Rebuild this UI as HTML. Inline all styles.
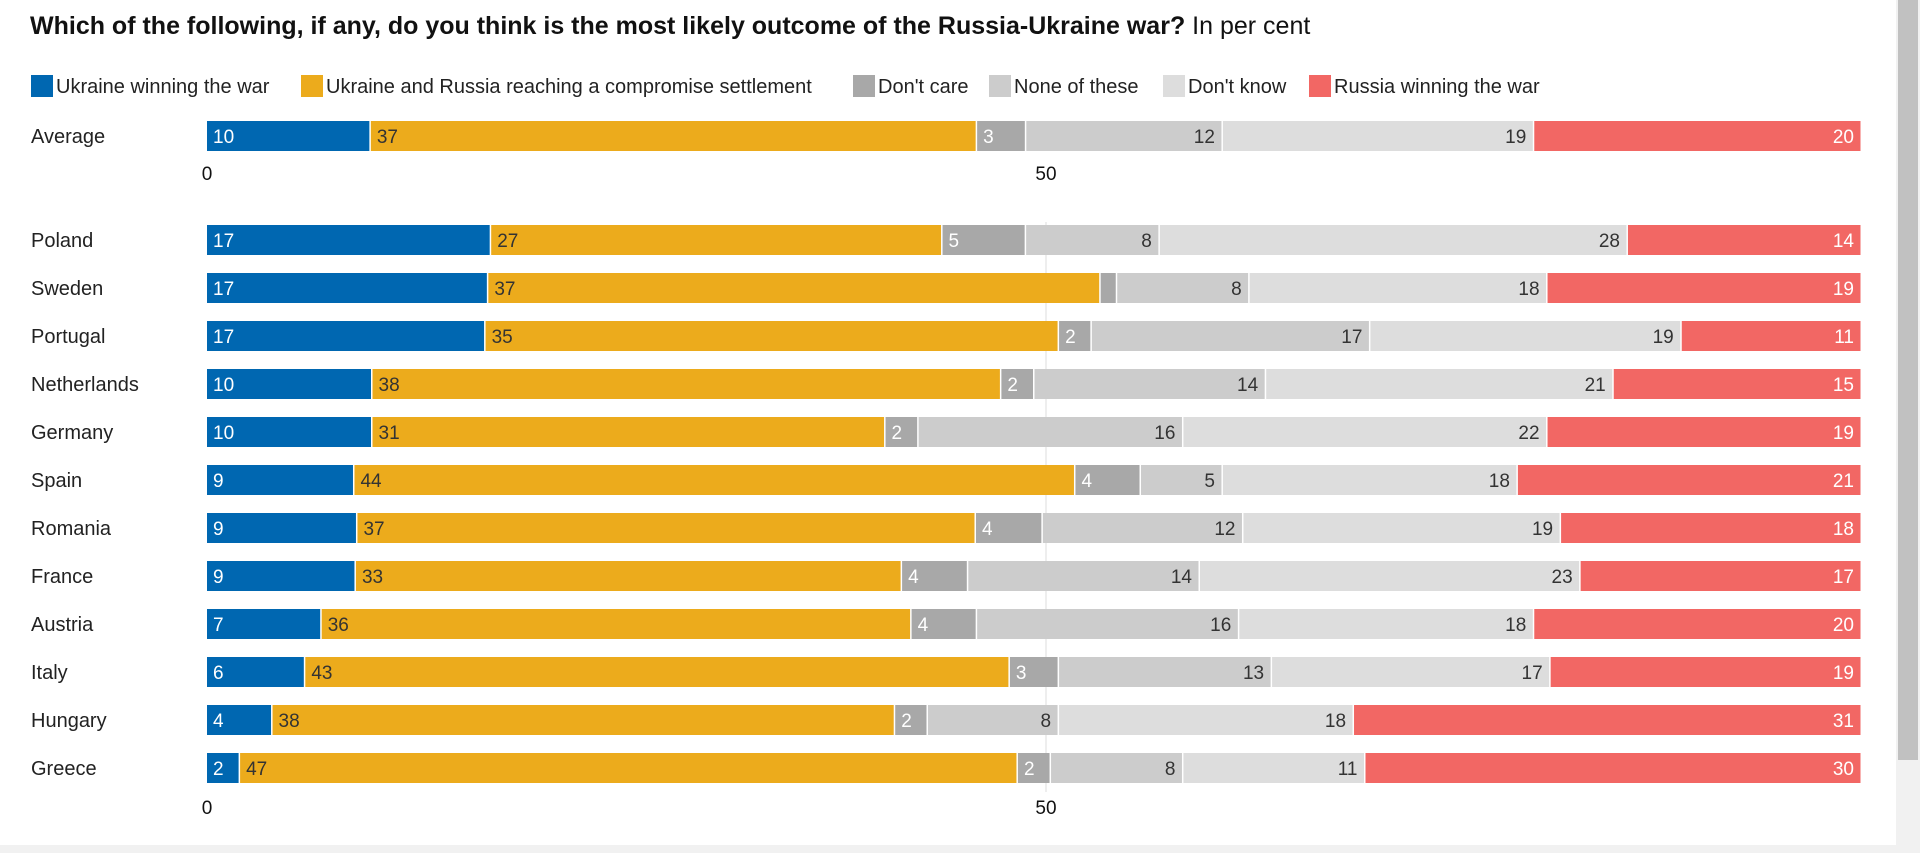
<!DOCTYPE html>
<html><head><meta charset="utf-8"><style>
body{margin:0;background:#fff;width:1920px;height:853px;overflow:hidden;font-family:"Liberation Sans",sans-serif}
svg text{font-family:"Liberation Sans",sans-serif}
</style></head><body>
<svg id="chart" width="1920" height="853">
<text x="30" y="34" font-size="25" font-weight="bold" fill="#111">Which of the following, if any, do you think is the most likely outcome of the Russia-Ukraine war?<tspan font-weight="normal"> In per cent</tspan></text>
<g id="legend"></g>
<g id="grid"></g><g id="bars"></g><g id="axes"></g>
<rect x="1896" y="0" width="24" height="853" fill="#f1f1f1"/>
<rect x="1898" y="0" width="20" height="760" fill="#c1c1c1"/>
<rect x="0" y="845" width="1896" height="8" fill="#f1f1f1"/>
</svg>
<script>
const series=["Ukraine winning the war","Ukraine and Russia reaching a compromise settlement","Don't care","None of these","Don't know","Russia winning the war"];
const colors=["#0067b1","#ecab1c","#a8a8a8","#cccccc","#dddddd","#f26764"];
const countries=["Poland","Sweden","Portugal","Netherlands","Germany","Spain","Romania","France","Austria","Italy","Hungary","Greece"];
const avgValues=[10,37,3,12,19,20];
const ukraineWin=[17,17,17,10,10,9,9,9,7,6,4,2];
const compromise=[27,37,35,38,31,44,37,33,36,43,38,47];
const dontCare=[5,1,2,2,2,4,4,4,4,3,2,2];
const noneOfThese=[8,8,17,14,16,5,12,14,16,13,8,8];
const dontKnow=[28,18,19,21,22,18,19,23,18,17,18,11];
const russiaWin=[14,19,11,15,19,21,18,17,20,19,31,30];
const ticks=[0,50,100];
const NS="http://www.w3.org/2000/svg";
const X0=207,X1=1862,AX100=1885;
const ax=v=>X0+(AX100-X0)*v/100;
function mk(t,a,p){const e=document.createElementNS(NS,t);for(const k in a)e.setAttribute(k,a[k]);p.appendChild(e);return e;}
const legend=document.getElementById('legend');
const lx=[31,301,853,989,1163,1309];
series.forEach((s,i)=>{
  const r=mk('rect',{x:lx[i],y:75,width:22,height:22,fill:colors[i]},legend);
  
  
  const t=mk('text',{x:lx[i]+25,y:93,'font-size':20,fill:'#222'},legend);t.textContent=s;
  
  
});
const grid=document.getElementById('grid'),bars=document.getElementById('bars'),axes=document.getElementById('axes');
const gl=mk('line',{x1:ax(50),x2:ax(50),y1:222,y2:792,stroke:'#ddd','stroke-width':1},grid);


const clip=mk('clipPath',{id:'axclip'},document.getElementById('chart'));
mk('rect',{x:0,y:0,width:X1+2,height:853},clip);
function drawAxis(y,name){
  ticks.forEach(v=>{const t=mk('text',{x:ax(v),y:y,'font-size':19,fill:'#111','text-anchor':'middle','clip-path':'url(#axclip)'},axes);t.textContent=v;
  
  });
}
function drawRow(label,vals,cy){
  const t=mk('text',{x:31,y:cy+7,'font-size':20,fill:'#222'},bars);t.textContent=label;
  
  
  const tot=vals.reduce((a,b)=>a+b,0);let x=X0;
  vals.forEach((v,i)=>{
    const w=(X1-X0)*v/tot;
    const r=mk('rect',{x:x,y:cy-15,width:Math.max(w-1.5,0),height:30,fill:colors[i]},bars);
    
    
    if(w>20){
      const light=(i==1||i==3||i==4);
      const left=i<3;
      const tx=mk('text',{x:left?x+6:x+w-8,y:cy+7,'font-size':19,fill:light?'#333':'#fff','text-anchor':left?'start':'end'},bars);
      tx.textContent=v;
      
      
    }
    x+=w;
  });
}
drawRow("Average",avgValues,136);
drawAxis(180,'top-axis-tick');
countries.forEach((c,i)=>drawRow(c,[ukraineWin[i],compromise[i],dontCare[i],noneOfThese[i],dontKnow[i],russiaWin[i]],240+i*48));
drawAxis(814,'bottom-axis-tick');
</script>
</body></html>
